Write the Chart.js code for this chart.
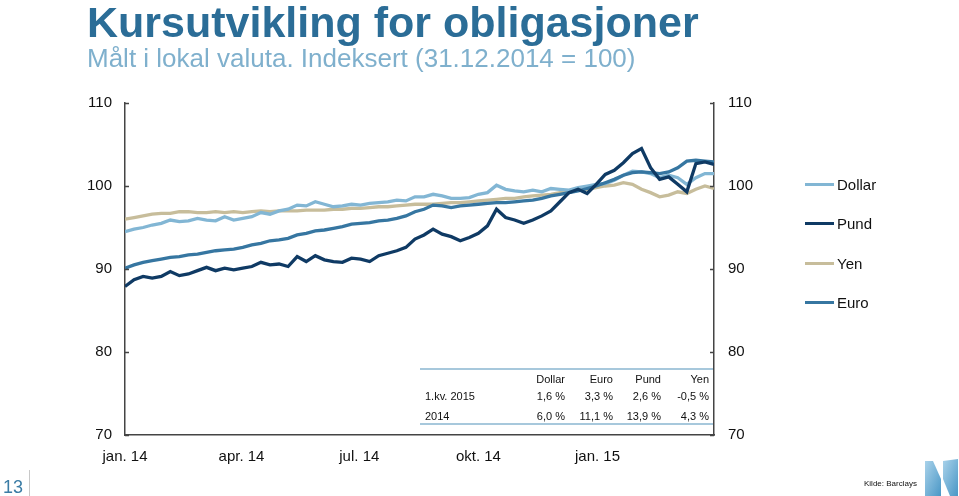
<!DOCTYPE html>
<html lang="no">
<head>
<meta charset="utf-8">
<title>Kursutvikling for obligasjoner</title>
<script src="https://cdn.jsdelivr.net/npm/chart.js@4.4.1/dist/chart.umd.min.js"></script>
<style>
  body { margin: 0; background: #fff; font-family: "Liberation Sans", Arial, sans-serif; }
  #page { position: relative; width: 959px; height: 496px; overflow: hidden; }
  #chart { position: absolute; left: 0; top: 0; }
  .title { position: absolute; left: 87px; top: 1px; font-size: 43px; line-height: 43px; font-weight: bold; color: #2b6d97; white-space: nowrap; }
  .subtitle { position: absolute; left: 87px; top: 45px; font-size: 26px; line-height: 26px; color: #7fb0cd; white-space: nowrap; }
  .legend-item { position: absolute; left: 805px; height: 20px; display: flex; align-items: center; font-size: 15px; color: #111; }
  .legend-item i { display: inline-block; width: 29px; height: 3px; margin-right: 3px; }
  .cell { position: absolute; font-size: 11px; line-height: 14px; color: #111; white-space: nowrap; }
  .rule { position: absolute; left: 420px; width: 293px; height: 1.5px; background: #a7c8dc; }
  .pagenr { position: absolute; left: 3px; top: 477px; font-size: 18px; color: #3a7ca5; }
  .sep { position: absolute; left: 29px; top: 470px; width: 1px; height: 26px; background: #c8c8c8; }
  .source { position: absolute; left: 864px; top: 479px; font-size: 8px; color: #111; }
  .logo { position: absolute; left: 922px; top: 458px; }
</style>
</head>
<body>
<div id="page">
  <canvas id="chart" width="959" height="496"></canvas>
  <div class="title">Kursutvikling for obligasjoner</div>
  <div class="subtitle">Målt i lokal valuta. Indeksert (31.12.2014 = 100)</div>
  <div id="legend"></div>
  <div id="table"></div>
  <div class="pagenr">13</div>
  <div class="sep"></div>
  <div class="source">Kilde: Barclays</div>
  <svg class="logo" width="37" height="38" viewBox="0 0 37 38">
    <defs>
      <linearGradient id="lg" x1="0" y1="0" x2="1" y2="1">
        <stop offset="0" stop-color="#a9d2ea"/>
        <stop offset="1" stop-color="#4a97c6"/>
      </linearGradient>
    </defs>
    <polygon points="3,3 11,3 19,21 19,38 3,38" fill="url(#lg)"/>
    <polygon points="21,3 36,1 36,38 28,38 21,21" fill="url(#lg)"/>
  </svg>
</div>

<script>
// ===== Data (weekly readings, day 0 = 1 Jan 2014) =====
const days = [0, 7, 14, 21, 28, 35, 42, 49, 56, 63, 70, 77, 84, 91, 98, 105, 112, 119, 126, 133,
  140, 147, 154, 161, 168, 175, 182, 189, 196, 203, 210, 217, 224, 231, 238, 245, 252, 259, 266, 273,
  280, 287, 294, 301, 308, 315, 322, 329, 336, 343, 350, 357, 364, 371, 378, 385, 392, 399, 406, 413,
  420, 427, 434, 441, 448, 455];

const dollar = [94.5, 94.8, 95.0, 95.3, 95.5, 95.9, 95.7, 95.8, 96.1, 95.9, 95.8, 96.3, 95.9, 96.1, 96.3, 96.8, 96.6, 97.0, 97.2, 97.7,
  97.6, 98.1, 97.8, 97.5, 97.6, 97.8, 97.7, 97.9, 98.0, 98.1, 98.3, 98.2, 98.7, 98.7, 99.0, 98.8, 98.5, 98.5, 98.6, 99.0,
  99.2, 100.1, 99.6, 99.4, 99.3, 99.5, 99.3, 99.7, 99.6, 99.5, 99.8, 100.0, 100.2, 100.3, 100.7, 101.3, 101.8, 101.7, 101.5, 101.0,
  101.3, 101.0, 100.2, 101.0, 101.5, 101.5];

const pund = [87.9, 88.7, 89.1, 88.9, 89.1, 89.7, 89.2, 89.4, 89.8, 90.2, 89.8, 90.1, 89.9, 90.1, 90.3, 90.8, 90.5, 90.6, 90.3, 91.5,
  90.9, 91.6, 91.1, 90.9, 90.8, 91.3, 91.2, 90.9, 91.6, 91.9, 92.2, 92.6, 93.6, 94.1, 94.8, 94.2, 93.9, 93.4, 93.8, 94.3,
  95.2, 97.2, 96.2, 95.9, 95.5, 95.9, 96.4, 97.0, 98.1, 99.2, 99.6, 99.1, 100.2, 101.4, 101.9, 102.8, 103.9, 104.5, 102.2, 100.8,
  101.1, 100.2, 99.3, 102.7, 102.9, 102.6];

const yen = [96.0, 96.2, 96.4, 96.6, 96.7, 96.7, 96.9, 96.9, 96.8, 96.8, 96.9, 96.8, 96.9, 96.8, 96.9, 97.0, 96.9, 97.0, 97.0, 97.0,
  97.1, 97.1, 97.1, 97.2, 97.2, 97.3, 97.3, 97.4, 97.5, 97.5, 97.6, 97.7, 97.8, 97.8, 97.8, 97.9, 98.0, 98.0, 98.1, 98.2,
  98.3, 98.4, 98.5, 98.5, 98.7, 98.8, 98.9, 99.0, 99.2, 99.3, 99.5, 99.6, 99.8, 100.0, 100.1, 100.4, 100.2, 99.6, 99.2, 98.7,
  98.9, 99.3, 99.1, 99.6, 100.0, 99.7];

const euro = [90.1, 90.5, 90.8, 91.0, 91.2, 91.4, 91.5, 91.7, 91.8, 92.0, 92.2, 92.3, 92.4, 92.6, 92.9, 93.1, 93.4, 93.5, 93.7, 94.1,
  94.3, 94.6, 94.7, 94.9, 95.1, 95.4, 95.5, 95.6, 95.8, 95.9, 96.1, 96.4, 96.9, 97.2, 97.7, 97.6, 97.4, 97.6, 97.7, 97.8,
  97.9, 98.0, 98.0, 98.1, 98.2, 98.3, 98.5, 98.8, 99.0, 99.2, 99.4, 99.7, 100.0, 100.4, 100.8, 101.3, 101.6, 101.7, 101.6, 101.5,
  101.7, 102.2, 103.0, 103.1, 103.0, 102.9];

const tickDays = [0, 90, 181, 273, 365];
const tickLabels = ['jan. 14', 'apr. 14', 'jul. 14', 'okt. 14', 'jan. 15'];
const yTicks = [70, 80, 90, 100, 110];

const tableHead = ['Dollar', 'Euro', 'Pund', 'Yen'];
const tableRows = ['1.kv. 2015', '2014'];
const tableValues = [
  ['1,6 %', '3,3 %', '2,6 %', '-0,5 %'],
  ['6,0 %', '11,1 %', '13,9 %', '4,3 %']
];

const series = [
  { label: 'Dollar', data: dollar, color: '#82b6d4', order: 2 },
  { label: 'Pund', data: pund, color: '#0f3a64', order: 0 },
  { label: 'Yen', data: yen, color: '#c7bd9b', order: 3 },
  { label: 'Euro', data: euro, color: '#3676a1', order: 1 }
];

// ===== Legend =====
const legendBox = document.getElementById('legend');
series.forEach((s, i) => {
  const item = document.createElement('div');
  item.className = 'legend-item';
  item.style.top = (174 + i * 39.5) + 'px';
  item.innerHTML = `<i style="background:${s.color}"></i>${s.label}`;
  legendBox.appendChild(item);
});

// ===== Table =====
const tableBox = document.getElementById('table');
const colRight = [565, 613, 661, 709];

function addCell(text, x, y, alignRight) {
  const el = document.createElement('div');
  el.className = 'cell';
  el.textContent = text;
  el.style.top = (y - 7) + 'px';
  if (alignRight) {
    el.style.right = (959 - x) + 'px';
  } else {
    el.style.left = x + 'px';
  }
  tableBox.appendChild(el);
}

function addRule(y) {
  const el = document.createElement('div');
  el.className = 'rule';
  el.style.top = y + 'px';
  tableBox.appendChild(el);
}

addRule(368);
tableHead.forEach((h, c) => addCell(h, colRight[c], 379, true));
tableRows.forEach((r, i) => {
  const y = i === 0 ? 396 : 416;
  addCell(r, 425, y, false);
  tableValues[i].forEach((v, c) => addCell(v, colRight[c], y, true));
});
addRule(423);

// ===== Inward tick marks =====
const innerTicks = {
  id: 'innerTicks',
  afterDraw(chart) {
    const { ctx, chartArea } = chart;
    const yScale = chart.scales.y;
    ctx.save();
    ctx.strokeStyle = '#444';
    ctx.lineWidth = 1.5;
    yTicks.forEach(v => {
      const y = Math.round(yScale.getPixelForValue(v)) + 0.5;
      ctx.beginPath();
      ctx.moveTo(chartArea.left, y);
      ctx.lineTo(chartArea.left + 4, y);
      ctx.moveTo(chartArea.right - 4, y);
      ctx.lineTo(chartArea.right, y);
      ctx.stroke();
    });
    ctx.restore();
  }
};

// ===== Chart =====
const tickFont = { family: '"Liberation Sans", Arial, sans-serif', size: 15 };

function yAxis(position, width, padding) {
  return {
    type: 'linear',
    position: position,
    min: 70,
    max: 110,
    afterBuildTicks: scale => { scale.ticks = yTicks.map(v => ({ value: v })); },
    afterFit: scale => { scale.width = width; },
    grid: { drawOnChartArea: false, drawTicks: false },
    border: { display: true, color: '#444', width: 1.5 },
    ticks: { color: '#111', font: tickFont, padding: padding }
  };
}

new Chart(document.getElementById('chart'), {
  type: 'line',
  data: {
    datasets: series.map(s => ({
      label: s.label,
      data: days.map((d, i) => ({ x: d, y: s.data[i] })),
      borderColor: s.color,
      borderWidth: 3.3,
      pointRadius: 0,
      tension: 0,
      order: s.order
    }))
  },
  options: {
    responsive: false,
    animation: false,
    layout: { padding: { top: 103, left: 0, right: 0, bottom: 0 } },
    plugins: {
      legend: { display: false },
      tooltip: { enabled: false }
    },
    scales: {
      x: {
        type: 'linear',
        min: 0,
        max: 455,
        afterBuildTicks: scale => { scale.ticks = tickDays.map(v => ({ value: v })); },
        afterFit: scale => { scale.height = 61; },
        grid: { display: false },
        border: { display: true, color: '#444', width: 1.5 },
        ticks: {
          color: '#111',
          font: tickFont,
          padding: 5,
          maxRotation: 0,
          autoSkip: false,
          callback: value => tickLabels[tickDays.indexOf(value)]
        }
      },
      y: yAxis('left', 125, 13),
      y2: yAxis('right', 245, 14)
    }
  },
  plugins: [innerTicks]
});
</script>
</body>
</html>
